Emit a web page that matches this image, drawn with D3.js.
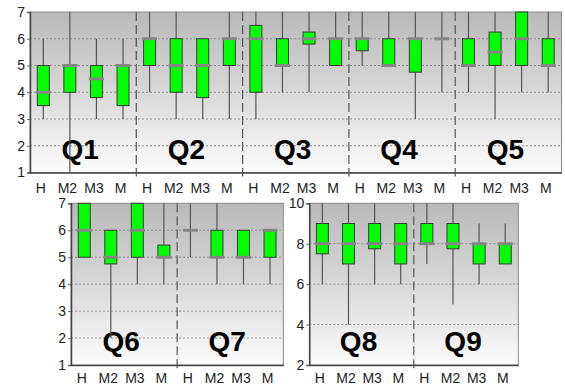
<!DOCTYPE html>
<html>
<head>
<meta charset="utf-8">
<script src="https://cdn.jsdelivr.net/npm/d3@7/dist/d3.min.js"></script>
<style>
  html, body { margin: 0; padding: 0; background: #fff; }
  svg { display: block; font-family: "Liberation Sans", Arial, sans-serif; }
</style>
</head>
<body>
<svg id="chart" width="565" height="387"></svg>
<script>
// Response categories shown under every question
const categories = ["H", "M2", "M3", "M"];

// Each entry: [whisker low, box low, median, box high, whisker high]
const q1 = [[3, 3.5, 4, 5, 6], [1, 4, 5, 5, 7], [3, 3.8, 4.5, 5, 6], [3, 3.5, 5, 5, 6]];
const q2 = [[4, 5, 6, 6, 7], [3, 4, 5, 6, 7], [3, 3.8, 5, 6, 6], [3, 5, 6, 6, 7]];
const q3 = [[3, 4, 6, 6.5, 7], [4, 5, 5, 6, 7], [4, 5.8, 6, 6.25, 7], [5, 5, 6, 6, 7]];
const q4 = [[5, 5.55, 6, 6, 7], [5, 5, 5, 6, 7], [3, 4.75, 6, 6, 7], [4, 6, 6, 6, 7]];
const q5 = [[4, 5, 5, 6, 7], [3, 5, 5.5, 6.25, 7], [4, 5, 6, 7, 7], [4, 5, 5, 6, 7]];
const q6 = [[5, 5, 6, 7, 7], [2, 4.75, 5, 6, 6], [4, 5, 6, 7, 7], [4, 5, 5, 5.45, 7]];
const q7 = [[5, 6, 6, 6, 7], [4, 5, 5, 6, 7], [4, 5, 5, 6, 6], [4, 5, 6, 6, 6]];
const q8 = [[6, 7.5, 8, 9, 10], [4, 7, 8, 9, 10], [6, 7.75, 8, 9, 10], [6, 7, 8, 9, 9]];
const q9 = [[7, 8, 8, 9, 10], [5, 7.75, 8, 9, 10], [6, 7, 8, 8, 9], [7, 7, 8, 8, 9]];

const ticks7 = [1, 2, 3, 4, 5, 6, 7];
const ticks10 = [2, 4, 6, 8, 10];

const panels = [
  { id: "a", x0: 30, x1: 561.5, y0: 12, y1: 172.5, domain: [1, 7], ticks: ticks7,
    labelPad: 10.5, qBase: 159,
    questions: [["Q1", q1], ["Q2", q2], ["Q3", q3], ["Q4", q4], ["Q5", q5]] },
  { id: "b", x0: 71, x1: 283.3, y0: 203.3, y1: 365, domain: [1, 7], ticks: ticks7,
    labelPad: 8.5, qBase: 351,
    questions: [["Q6", q6], ["Q7", q7]] },
  { id: "c", x0: 309.3, x1: 518.3, y0: 203.3, y1: 365, domain: [2, 10], ticks: ticks10,
    labelPad: 8.5, qBase: 351,
    questions: [["Q8", q8], ["Q9", q9]] }
];

const svg = d3.select("#chart");
const defs = svg.append("defs");
const grad = defs.append("linearGradient")
  .attr("id", "bg").attr("x1", 0).attr("y1", 0).attr("x2", 0).attr("y2", 1);
grad.append("stop").attr("offset", "0%").attr("stop-color", "#b9b9b9");
grad.append("stop").attr("offset", "45%").attr("stop-color", "#d5d5d5");
grad.append("stop").attr("offset", "100%").attr("stop-color", "#fcfcfc");

panels.forEach(p => {
  const g = svg.append("g");
  const keys = [];
  p.questions.forEach(([q]) => categories.forEach(c => keys.push(q + "|" + c)));

  const x = d3.scaleBand().domain(keys).range([p.x0, p.x1]);
  const y = d3.scaleLinear().domain(p.domain).range([p.y1, p.y0]);

  // plot background and frame
  g.append("rect")
    .attr("x", p.x0).attr("y", p.y0)
    .attr("width", p.x1 - p.x0).attr("height", p.y1 - p.y0)
    .attr("fill", "url(#bg)")
    .attr("stroke", "#8a8a8a").attr("stroke-width", 1);

  // horizontal dotted gridlines
  g.selectAll(".grid").data(p.ticks.slice(1, -1)).join("line")
    .attr("x1", p.x0).attr("x2", p.x1)
    .attr("y1", d => y(d)).attr("y2", d => y(d))
    .attr("stroke", "#8c8c8c").attr("stroke-width", 1)
    .attr("stroke-dasharray", "2,2");

  // dashed separators between questions
  const bw = x.step();
  p.questions.slice(1).forEach(([q]) => {
    const xs = x(q + "|" + categories[0]);
    g.append("line")
      .attr("x1", xs).attr("x2", xs)
      .attr("y1", p.y0).attr("y2", p.y1 + 4)
      .attr("stroke", "#555").attr("stroke-width", 1.2)
      .attr("stroke-dasharray", "9,4");
  });

  // question labels
  p.questions.forEach(([q]) => {
    const cx = x(q + "|" + categories[0]) + bw * 2;
    g.append("text")
      .attr("x", cx - 3).attr("y", p.qBase)
      .attr("text-anchor", "middle")
      .attr("font-size", 28).attr("font-weight", "bold")
      .attr("fill", "#000")
      .text(q);
  });

  // box plots
  const boxW = 12;
  p.questions.forEach(([q, rows]) => {
    rows.forEach((r, i) => {
      const [lo, b0, med, b1, hi] = r;
      const cx = x(q + "|" + categories[i]) + bw / 2;
      g.append("line")
        .attr("x1", cx).attr("x2", cx)
        .attr("y1", y(lo)).attr("y2", y(hi))
        .attr("stroke", "#555").attr("stroke-width", 1.2);
      if (b1 > b0) {
        g.append("rect")
          .attr("x", cx - boxW / 2).attr("y", y(b1))
          .attr("width", boxW).attr("height", y(b0) - y(b1))
          .attr("fill", "#00ff00")
          .attr("stroke", "#3a3a3a").attr("stroke-width", 1);
      }
      g.append("line")
        .attr("x1", cx - boxW / 2 - 1.5).attr("x2", cx + boxW / 2 + 1.5)
        .attr("y1", y(med)).attr("y2", y(med))
        .attr("stroke", "#858585").attr("stroke-width", 3);
    });
  });

  // axes
  const yAxis = d3.axisLeft(y).tickValues(p.ticks).tickSize(3).tickPadding(2)
    .tickFormat(d3.format("d"));
  const ya = g.append("g").attr("transform", `translate(${p.x0},0)`).call(yAxis);
  ya.select(".domain").attr("stroke", "#444").attr("stroke-width", 1.5);
  ya.selectAll(".tick line").attr("stroke", "#666");
  ya.selectAll(".tick text").attr("font-size", 14).attr("fill", "#222")
    .attr("font-family", "Liberation Sans, Arial, sans-serif");

  const xAxis = d3.axisBottom(x).tickSize(0).tickPadding(p.labelPad)
    .tickFormat(d => d.split("|")[1]);
  const xa = g.append("g").attr("transform", `translate(0,${p.y1})`).call(xAxis);
  xa.select(".domain").attr("stroke", "#444").attr("stroke-width", 1.5);
  xa.selectAll(".tick text").attr("font-size", 14).attr("fill", "#222")
    .attr("dx", -2.5)
    .attr("font-family", "Liberation Sans, Arial, sans-serif");
});
</script>
</body>
</html>
